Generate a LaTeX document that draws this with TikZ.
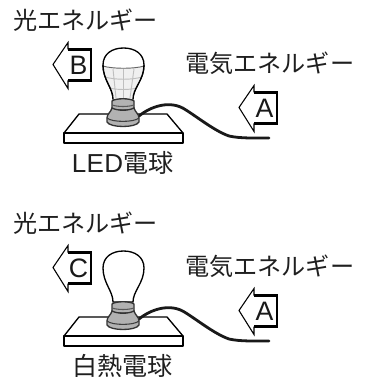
\documentclass[tikz,border=0pt]{standalone}
\usepackage{fontspec}
\newfontfamily\jpfont{Noto Sans CJK JP}
\newfontfamily\latinfont{Liberation Sans}
\definecolor{basegrey}{gray}{0.70}
\definecolor{gridgrey}{gray}{0.75}
\tikzset{
  lbl/.style={inner sep=0pt,font=\fontsize{18.1pt}{20pt}\selectfont\jpfont,text=black!88},
  caption/.style={inner sep=0pt,font=\fontsize{18.8pt}{20pt}\selectfont\jpfont,text=black!88},
  letter/.style={inner sep=0pt,font=\fontsize{20pt}{24pt}\selectfont\latinfont,text=black!90},
  bodyline/.style={draw=black,line width=1.6pt,line join=miter},
  headline/.style={draw=black,line width=0.8pt,line join=miter},
  plate/.style={draw=black,line width=1pt,fill=white,line join=round},
  socket/.style={draw=black!80,line width=1pt,fill=basegrey},
  glass/.style={draw=black,line width=1pt,fill=white},
  cable/.style={draw=black!90,line width=2.1pt,line cap=round},
}
% Block arrow pointing left; #1 = tip x, #2 = centre y, #3 = letter
\newcommand{\blockarrow}[3]{%
  \fill[white] (#1,#2) -- (#1+15,#2-22) -- (#1+15,#2-15) -- (#1+38,#2-15)
    -- (#1+38,#2+16) -- (#1+15,#2+16) -- (#1+15,#2+24) -- cycle;
  \draw[headline] (#1+15,#2-15) -- (#1+15,#2-22) -- (#1,#2) -- (#1+15,#2+24) -- (#1+15,#2+16);
  \draw[bodyline] (#1+15,#2-15) -- (#1+38,#2-15) -- (#1+38,#2+16) -- (#1+15,#2+16);
  \node[letter] (arrowletter#3) at (#1+25.5,#2+0.5) {#3};
}
% Table and cable shared by both lamps
\newcommand{\lampstand}{%
  \draw[plate] (64,133) -- (79,114) -- (167,114) -- (183,133) -- cycle;
  \draw[plate,line width=1.5pt] (64,133) rectangle (183,143);
  \coordinate (cablestart) at (139,116);
  \coordinate (cableend) at (269,138);
  \draw[cable] (cablestart) .. controls (150,107) and (170,99) .. (186,110)
     .. controls (200,119) and (215,131) .. (229,136) .. controls (240,138.5) and (255,138) .. (cableend);
}
% Socket, drawn over the foot of the glass
\newcommand{\lampsocket}{%
  \draw[socket] (112,101) -- (112,110) -- (134,110) -- (134,101)
     .. controls (130,98) and (116,98) .. (112,101) -- cycle;
  \draw[draw=black!65,line width=0.8pt] (112,105) .. controls (118,107) and (128,107) .. (134,105);
  \draw[socket] (112,108) .. controls (111,112) and (107,114) .. (107,118) -- (107,122)
     .. controls (110,128) and (136,128) .. (139,122) -- (139,118)
     .. controls (139,114) and (135,112) .. (134,108) .. controls (128,111) and (118,111) .. (112,108) -- cycle;
  \draw[draw=black!75,line width=0.8pt] (107,118) .. controls (112,122.5) and (134,122.5) .. (139,118);
}
\begin{document}
\begin{tikzpicture}[x=0.75pt,y=-0.75pt]
  \useasboundingbox (0,0) rectangle (372,381);
  \fill[white] (0,0) rectangle (372,381);

  % Upper lamp: LED bulb
  \begin{scope}[name prefix=led-]
    \node[lbl,anchor=west] (lighttext) at (13,20) {光エネルギー};
    \node[lbl,anchor=west] (powertext) at (185,63) {電気エネルギー};
    \lampstand
    \draw[glass] (113,99) .. controls (113,88) and (103,80) .. (103,65)
       .. controls (103,54) and (112,48) .. (123.5,48)
       .. controls (135,48) and (144,54) .. (144,65)
       .. controls (144,80) and (133,88) .. (133,99) -- cycle;
    % Ribbed heat sink on the lower part of the bulb
    \fill[gray!12] (103.5,66) .. controls (112,69) and (135,69) .. (143.5,66)
       .. controls (143,80) and (133,88) .. (133,99) -- (113,99) .. controls (113,88) and (104,80) .. (103.5,66) -- cycle;
    \draw[gridgrey,line width=0.7pt]
       (105,77) .. controls (115,80) and (132,80) .. (142,77)
       (110,88) .. controls (116,90) and (130,90) .. (137,88)
       (113,69) -- (116,98) (123.5,69) -- (123.5,99) (134,69) -- (130,98);
    \draw[draw=black!60,line width=0.7pt] (103,66) .. controls (112,69) and (135,69) .. (144,66);
    \draw[draw=black,line width=1pt] (113,99) .. controls (113,88) and (103,80) .. (103,65)
       (133,99) .. controls (133,88) and (144,80) .. (144,65);
    \lampsocket
    \blockarrow{53}{64.5}{B}
    \blockarrow{239}{107.5}{A}
    \node[caption,anchor=west] (lamptext) at (71.5,163) {{\fontsize{19.5pt}{20pt}\selectfont\latinfont L\kern0.3pt E\kern0.3pt D}\kern0.3pt 電球};
  \end{scope}

  % Lower lamp: incandescent bulb
  \begin{scope}[yshift=-152.25pt,name prefix=inc-]
    \node[lbl,anchor=west] (lighttext) at (13,20) {光エネルギー};
    \node[lbl,anchor=west] (powertext) at (185,63) {電気エネルギー};
    \lampstand
    \draw[glass] (113,99) .. controls (113,88) and (103,80) .. (103,65)
       .. controls (103,54) and (112,48) .. (123.5,48)
       .. controls (135,48) and (144,54) .. (144,65)
       .. controls (144,80) and (133,88) .. (133,99) -- cycle;
    \lampsocket
    \blockarrow{53}{64.5}{C}
    \blockarrow{239}{107.5}{A}
    \node[caption,anchor=west] (lamptext) at (72.5,163) {白熱電球};
  \end{scope}
\end{tikzpicture}
\end{document}
